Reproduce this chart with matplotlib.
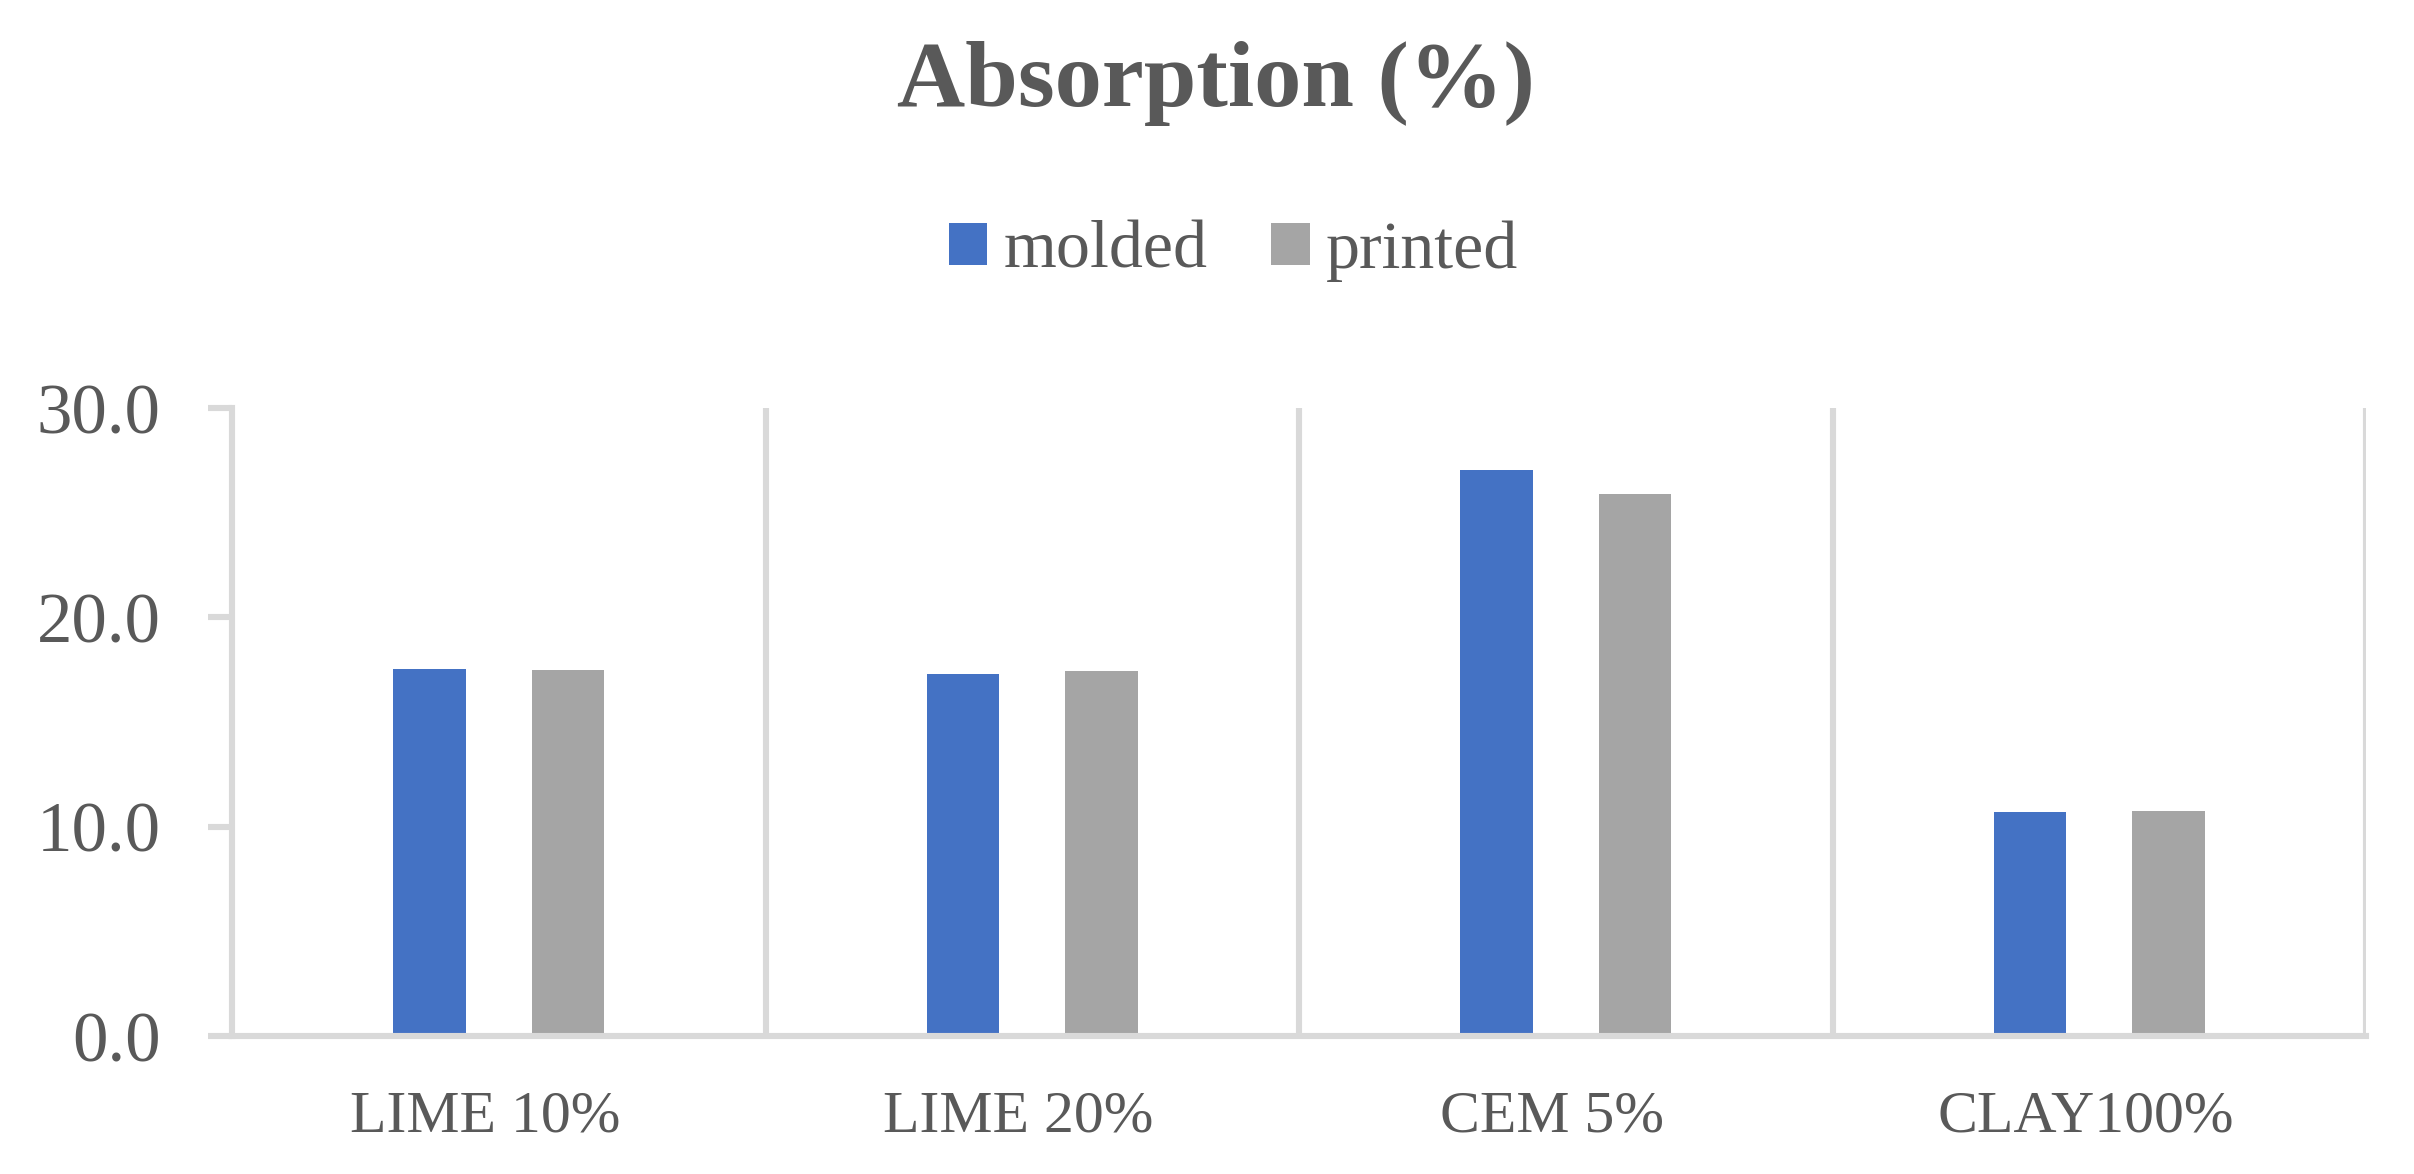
import matplotlib
matplotlib.use("Agg")
import matplotlib.pyplot as plt
import matplotlib.transforms as mtransforms
from matplotlib.patches import Patch
import numpy as np

categories = ["LIME 10%", "LIME 20%", "CEM 5%", "CLAY100%"]
series_names = ["molded", "printed"]
molded = [17.55, 17.3, 27.05, 10.7]
printed = [17.5, 17.45, 25.9, 10.75]
yticks = [0, 10, 20, 30]
title = "Absorption (%)"

BLUE = "#4472C4"
GRAY = "#A5A5A5"
GRID = "#D9D9D9"
TXT = "#595959"
FONT = ["Liberation Serif", "DejaVu Serif"]

plt.rcParams["font.family"] = FONT

W, H, DPI = 2414, 1174, 100
fig = plt.figure(figsize=(W / DPI, H / DPI), dpi=DPI)
ax = fig.add_axes([232 / W, 1 - 1036 / H, (2366 - 232) / W, (1036 - 408) / H])

x = np.arange(len(categories))
bw = 0.136
ax.bar(x - 0.13, molded, bw, color=BLUE, label=series_names[0], zorder=3)
ax.bar(x + 0.13, printed, bw, color=GRAY, label=series_names[1], zorder=3)

ax.set_xlim(-0.5, len(categories) - 0.5)
ax.set_ylim(0, 30)

LW = 4.4
for b in np.arange(0.5, len(categories), 1.0):
    ax.axvline(b, color=GRID, lw=LW, zorder=1)

for s in ["top", "right"]:
    ax.spines[s].set_visible(False)
for s in ["left", "bottom"]:
    ax.spines[s].set_color(GRID)
    ax.spines[s].set_linewidth(LW)
    ax.spines[s].set_zorder(4)

ax.set_yticks(yticks)
ax.set_yticklabels([f"{v:.1f}" for v in yticks])
ax.tick_params(axis="y", direction="out", length=17.5, width=LW, color=GRID,
               labelsize=51, labelcolor=TXT, pad=34)
ax.set_xticks(x)
ax.set_xticklabels(categories)
ax.tick_params(axis="x", length=0, labelsize=43, labelcolor=TXT, pad=39)
shift = mtransforms.ScaledTranslation(-14 / DPI, 0, fig.dpi_scale_trans)
for lab in ax.get_xticklabels():
    lab.set_transform(lab.get_transform() + shift)

fig.text(0.5038, 1 - 106 / H, title, ha="center", va="baseline", fontsize=68,
         fontweight="bold", color=TXT)

handles = [Patch(facecolor=BLUE, edgecolor="none"), Patch(facecolor=GRAY, edgecolor="none")]
fig.legend(handles, series_names, loc="center", bbox_to_anchor=(0.511, 0.786),
           ncol=2, frameon=False, fontsize=49, labelcolor=TXT,
           handlelength=0.57, handleheight=0.56, handletextpad=0.24,
           columnspacing=0.93, borderpad=0)

fig.savefig("out.png", dpi=DPI, facecolor="white")
